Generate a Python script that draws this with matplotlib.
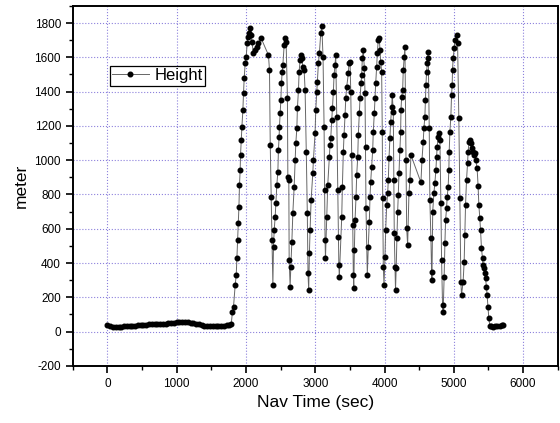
import matplotlib
matplotlib.use('Agg')
import matplotlib.pyplot as plt
from matplotlib.ticker import MultipleLocator

plt.rcParams['font.family'] = ['Liberation Sans', 'DejaVu Sans']
plt.rcParams['axes.unicode_minus'] = False

# Navigation log: time (s) and height (m)
nav_time = [
    0, 40, 80, 120, 160, 200, 240, 280, 320, 360, 400, 440, 480, 520, 560, 600,
    640, 680, 720, 760, 800, 840, 880, 920, 960, 1000, 1040, 1080, 1120, 1160,
    1200, 1240, 1280, 1320, 1360, 1400, 1440, 1480, 1520, 1560, 1600, 1640,
    1680, 1720, 1760,
    1787, 1805, 1820, 1844, 1859, 1869, 1878, 1888, 1898, 1906, 1916, 1921,
    1931, 1941, 1955, 1964, 1974, 1988, 2003, 2017, 2027, 2046, 2061, 2075,
    2085, 2108, 2133, 2157, 2180, 2219, 2324,
    2339, 2350, 2363, 2375, 2388,
    2397, 2407, 2421, 2431, 2445, 2460, 2468, 2478, 2483, 2493, 2503, 2512,
    2522, 2532, 2551, 2565, 2579,
    2598, 2604, 2618, 2623, 2637,
    2647, 2662, 2676, 2695, 2709, 2719, 2734, 2742, 2757, 2767, 2781, 2796,
    2806, 2820, 2839, 2853,
    2870, 2885, 2895, 2905,
    2915, 2925, 2940, 2964, 2973, 2997, 3007, 3022, 3030, 3045, 3059, 3079, 3094,
    3112, 3127, 3135, 3141, 3147,
    3166, 3180, 3204, 3213, 3223, 3238, 3247, 3261, 3271, 3285, 3295,
    3310, 3325, 3333, 3340, 3347,
    3382, 3391, 3405, 3415, 3430, 3440, 3454, 3477, 3487, 3502,
    3512, 3526, 3541, 3549, 3556,
    3564, 3574, 3588, 3598, 3613, 3621, 3636, 3646, 3660, 3670, 3679, 3693,
    3708, 3718, 3725, 3732, 3751,
    3765, 3780, 3790, 3800, 3814, 3829, 3837, 3852, 3862, 3872, 3886, 3895,
    3909, 3924, 3934, 3944, 3958,
    3967, 3973, 3982, 3992,
    4006, 4016, 4031, 4045, 4054, 4064, 4078, 4088, 4103, 4111, 4126,
    4133, 4140, 4150, 4158,
    4168, 4178, 4189, 4198, 4208, 4222, 4232, 4237, 4247, 4261, 4270, 4284, 4294,
    4309, 4319, 4333,
    4352, 4366, 4381, 4525, 4540, 4558, 4568, 4582, 4590, 4597, 4607, 4616,
    4621, 4630,
    4645, 4654, 4669, 4679, 4684,
    4695, 4712, 4726, 4741, 4751, 4759, 4774, 4784, 4799,
    4813, 4823, 4837, 4846,
    4860, 4871, 4881, 4895, 4904, 4918, 4928, 4933, 4943, 4957, 4967, 4976,
    4981, 4990, 5005, 5015, 5039, 5054,
    5072, 5087, 5101, 5111, 5134,
    5149, 5159, 5169, 5183, 5198, 5206, 5221, 5230, 5241, 5255, 5270, 5289,
    5300, 5317,
    5336, 5350, 5361, 5375, 5385, 5399, 5414, 5423, 5437, 5447, 5457, 5471,
    5480, 5494, 5505, 5519, 5540, 5570, 5600, 5630, 5660, 5690, 5710,
]
height = [
    38, 33, 29, 27, 28, 29, 30, 31, 33, 34, 35, 37, 38, 40, 41, 42,
    43, 44, 45, 45, 46, 47, 48, 50, 52, 54, 55, 56, 56, 55,
    53, 50, 46, 42, 38, 35, 33, 32, 32, 33, 33, 34,
    35, 36, 38,
    45, 117, 146, 272, 330, 430, 535, 634, 729, 855, 943, 1030,
    1118, 1195, 1293, 1390, 1478, 1565, 1604, 1682, 1720, 1740, 1769, 1730,
    1691, 1623, 1643, 1662, 1682, 1711, 1613,
    1526, 1089, 787, 535, 272,
    496, 593, 670, 749, 855, 933, 1060, 1137, 1195, 1273, 1351, 1448,
    1516, 1555, 1672, 1711, 1691,
    1361, 904, 885, 418, 262,
    379, 524, 690, 845, 1001, 1098, 1186, 1303, 1409, 1516, 1584, 1613,
    1594, 1545, 1526, 1409,
    1050, 690, 340, 243,
    457, 593, 768, 923, 1001, 1157, 1293, 1399, 1458, 1565, 1623, 1740, 1785,
    1600, 1195, 826, 535, 428,
    670, 855, 1020, 1089, 1128, 1234, 1303, 1399, 1497, 1555, 1613,
    1254, 826, 554, 389, 321,
    670, 845, 1050, 1147, 1264, 1361, 1429, 1506, 1565, 1574,
    1399, 1030, 622, 330, 253,
    476, 651, 787, 913, 1020, 1147, 1273, 1361, 1448, 1497, 1594, 1643,
    1536, 1390, 1079, 719, 330,
    496, 641, 787, 875, 962, 1060, 1166, 1273, 1361, 1448, 1545, 1623,
    1701, 1711, 1643, 1574, 1516,
    1166, 778, 379, 272,
    437, 593, 739, 807, 884, 1011, 1128, 1224, 1312, 1380, 1283,
    884, 574, 379, 243,
    369, 544, 700, 797, 923, 1060, 1166, 1293, 1370, 1409, 1526, 1604, 1662,
    1001, 603, 505,
    807, 884, 1030, 870, 1001, 1108, 1186, 1254, 1351, 1438, 1516, 1565,
    1594, 1633,
    1186, 768, 544, 350, 301,
    700, 807, 865, 943, 1020, 1079, 1137, 1157, 1118,
    749, 418, 156, 117,
    321, 515, 651, 719, 787, 845, 943, 1050, 1166, 1254, 1380, 1438,
    1526, 1594, 1652, 1701, 1730, 1682,
    1244, 778, 292, 214, 292,
    408, 564, 739, 884, 982, 1050, 1108, 1120, 1098, 1070, 1050, 1030,
    1040, 1001,
    953, 850, 739, 661, 593, 486, 428, 389, 369, 340, 311, 262,
    214, 146, 78, 35, 30, 28, 30, 32, 35, 38, 40,
]

fig = plt.figure(figsize=(5.6, 4.23), dpi=100)
ax = fig.add_axes([0.130, 0.135, 0.866, 0.851])

ax.plot(nav_time, height, color='#666666', linewidth=0.7, marker='o',
        markersize=3.3, markerfacecolor='black', markeredgecolor='black',
        label='Height')

ax.set_xlim(-500, 6500)
ax.set_ylim(-200, 1900)
ax.xaxis.set_major_locator(MultipleLocator(1000))
ax.xaxis.set_minor_locator(MultipleLocator(500))
ax.yaxis.set_major_locator(MultipleLocator(200))
ax.yaxis.set_minor_locator(MultipleLocator(100))

ax.grid(True, which='major', linestyle=':', color='#8c80dc', linewidth=0.8)
ax.tick_params(which='major', direction='out', length=5, width=1.2, labelsize=8.5)
ax.tick_params(which='minor', direction='out', length=3, width=1.0)
for side in ax.spines.values():
    side.set_linewidth(1.4)

ax.set_xlabel('Nav Time (sec)', fontsize=12.5)
ax.set_ylabel('meter', fontsize=12.5)

leg = ax.legend(loc='upper left', bbox_to_anchor=(0.076, 0.834), borderaxespad=0,
                fontsize=12, fancybox=False, framealpha=1, handlelength=2.2,
                borderpad=0.15, handletextpad=0.35)
leg.get_frame().set_edgecolor('black')
leg.get_frame().set_linewidth(0.9)

fig.savefig('out.png', dpi=100)
